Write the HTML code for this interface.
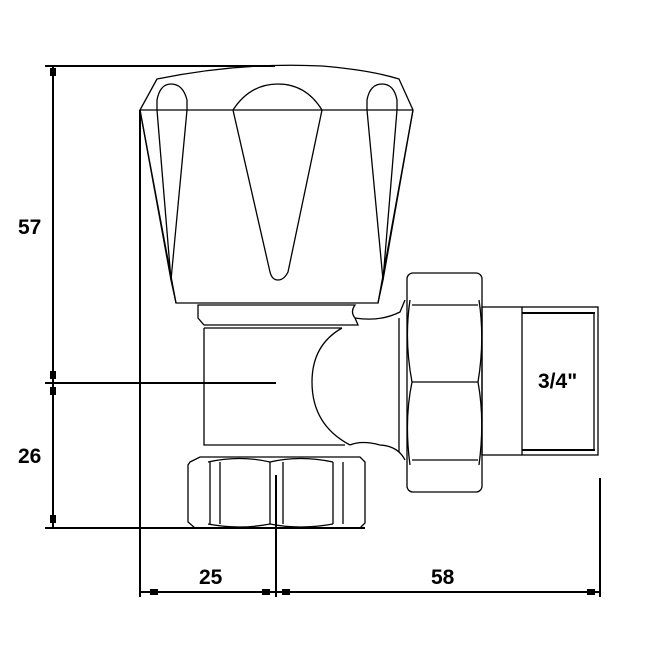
<!DOCTYPE html>
<html><head><style>body{margin:0;background:#fff}svg{display:block}</style></head><body>
<svg width="650" height="651" viewBox="0 0 650 651" xmlns="http://www.w3.org/2000/svg" font-family="Liberation Sans, sans-serif">
<g fill="none" stroke="#000" stroke-width="1.3">
<!-- knob -->
<path d="M157,79 Q240,62 322,66 Q370,70 399,79 L413,110 L378,303 L176,303 L140,110 Z"/>
<line x1="140" y1="110" x2="413" y2="110"/>
<path d="M171,280 L157,110 L157,100 Q160,84 171,84 Q183,84 187,100 L187,110 L171,280"/>
<path d="M140,110 L171,280 L176,303"/>
<path d="M233,110 Q250,84 278,84 Q306,84 322,110 L288,272 Q284,280 278,280 Q272,280 270,272 Z"/>
<path d="M383,280 L367,110 L367,100 Q370,84 382,84 Q394,84 397,100 L397,110 L383,280"/>
<path d="M413,110 L383,280 L378,303"/>
<!-- collar -->
<path d="M198,305 L355,305 Q350,312 355,318 L358,325 L204,325 L198,318 Z"/>
<line x1="204" y1="328" x2="342" y2="328"/>
<!-- body -->
<path d="M204,328 L204,445 L345,445"/>
<path d="M342,328 Q312,345 312,382 Q312,425 350,445"/>
<path d="M355,318 Q380,322 400,312 L405,300"/>
<path d="M350,445 Q362,440 380,445 Q398,446 405,460"/>
<line x1="399" y1="318" x2="399" y2="452"/>
<!-- union nut -->
<rect x="407" y="273" width="75" height="219" rx="6"/>
<line x1="412" y1="305" x2="478" y2="305"/>
<line x1="412" y1="382" x2="478" y2="382"/>
<line x1="412" y1="460" x2="478" y2="460"/>
<path d="M410,300 Q404,340 412,382 Q404,420 410,465"/>
<path d="M479,300 Q485,340 478,382 Q485,420 479,465"/>
<!-- pipe -->
<rect x="482" y="307" width="116" height="148"/>
<line x1="522" y1="307" x2="522" y2="455"/>
<line x1="522" y1="313" x2="595" y2="313" stroke-width="2"/>
<line x1="522" y1="450" x2="595" y2="450" stroke-width="2"/>
<line x1="594" y1="313" x2="594" y2="450"/>
<!-- bottom nut -->
<path d="M190,462 L200,457 L360,457 L365,462 L365,523 L360,528 L195,528 L188,522 L188,465 Z"/>
<path d="M208,462 Q240,455 270,462 Q300,455 333,462"/>
<path d="M208,524 Q240,530 270,524 Q300,530 333,524"/>
<line x1="210" y1="462" x2="210" y2="524"/><line x1="220" y1="462" x2="220" y2="524"/>
<line x1="270" y1="462" x2="270" y2="524"/><line x1="283" y1="462" x2="283" y2="524"/>
<line x1="333" y1="462" x2="333" y2="524"/><line x1="343" y1="462" x2="343" y2="524"/>
</g>
<!-- dimensions -->
<g stroke="#000" stroke-width="2" fill="none">
<line x1="45" y1="66" x2="275" y2="66"/>
<line x1="45" y1="383" x2="276" y2="383"/>
<line x1="45" y1="528" x2="365" y2="528"/>
<line x1="53" y1="66" x2="53" y2="528"/>
<line x1="140" y1="110" x2="140" y2="597"/>
<line x1="276" y1="475" x2="276" y2="597"/>
<line x1="600" y1="478" x2="600" y2="597"/>
<line x1="140" y1="592" x2="600" y2="592"/>
</g>
<g fill="#000">
<rect x="50" y="68" width="6" height="8"/><rect x="50" y="371" width="6" height="8"/><rect x="50" y="387" width="6" height="8"/><rect x="50" y="515" width="6" height="8"/>
<rect x="150" y="589" width="8" height="6"/><rect x="262" y="589" width="8" height="6"/><rect x="282" y="589" width="8" height="6"/><rect x="587" y="589" width="8" height="6"/>
</g>
<g font-size="21" font-weight="bold" fill="#000">
<text x="18" y="234">57</text>
<text x="18" y="463">26</text>
<text x="199" y="584">25</text>
<text x="431" y="584">58</text>
<text x="538" y="388">3/4"</text>
</g>
</svg>
</body></html>
